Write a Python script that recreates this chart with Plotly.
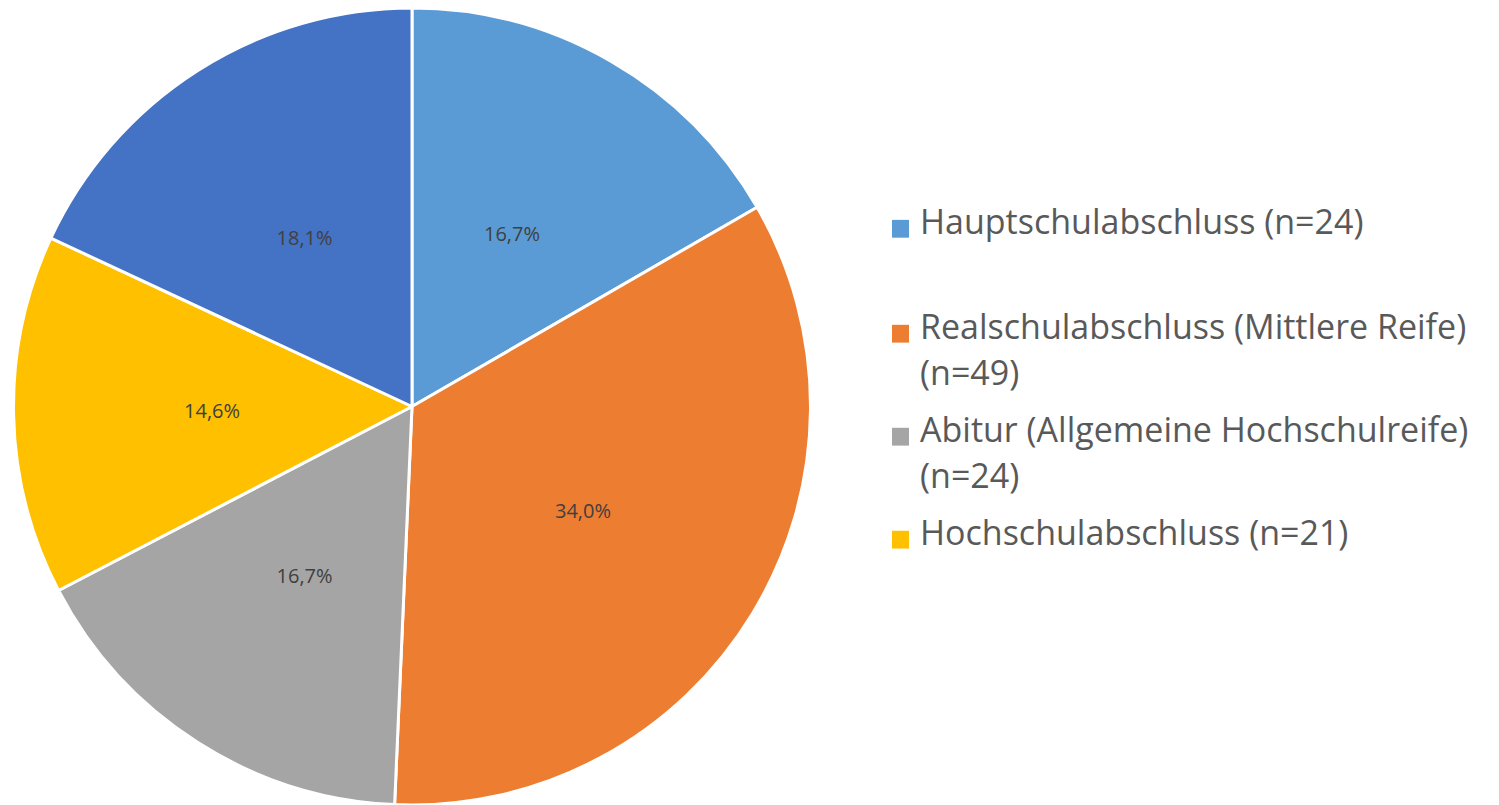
import plotly.graph_objects as go

labels = ["Hauptschulabschluss (n=24)", "Realschulabschluss (Mittlere Reife) (n=49)",
          "Abitur (Allgemeine Hochschulreife) (n=24)", "Hochschulabschluss (n=21)", "Sonstige (n=26)"]
values = [24, 49, 24, 21, 26]
colors = ["#5B9BD5", "#ED7D31", "#A5A5A5", "#FFC000", "#4472C4"]
legend_lines = [["Hauptschulabschluss (n=24)"],
                ["Realschulabschluss (Mittlere Reife)", "(n=49)"],
                ["Abitur (Allgemeine Hochschulreife)", "(n=24)"],
                ["Hochschulabschluss (n=21)"]]

W, H = 1499, 805
FONT = "Open Sans"

total = sum(values)
texts = [f"{v / total * 100:.1f}%".replace(".", ",") for v in values]

dom_x = [8 / W, 816 / W]

fig = go.Figure()
# coloured slices
fig.add_trace(go.Pie(
    labels=labels, values=values, sort=False, direction="clockwise", rotation=0,
    marker=dict(colors=colors, line=dict(color="white", width=3)),
    textinfo="none", domain=dict(x=dom_x, y=[0, 1]),
    showlegend=False, hoverinfo="label+percent",
))
# transparent ring used only to place the percentage labels at half radius
fig.add_trace(go.Pie(
    labels=labels, values=values, sort=False, direction="clockwise", rotation=0,
    hole=0.434,
    marker=dict(colors=["rgba(0,0,0,0)"] * len(values), line=dict(width=0)),
    text=texts, textinfo="text", textposition="inside", insidetextorientation="horizontal",
    textfont=dict(family=FONT, size=20, color="#404040"),
    domain=dict(x=dom_x, y=[0.15, 0.85]),
    showlegend=False, hoverinfo="skip",
))

# legend drawn at Excel-like positions
first_line_y = [223, 329, 433, 537]
line_h = 47
shapes, annos = [], []
for i, lines in enumerate(legend_lines):
    yc = first_line_y[i]
    shapes.append(dict(type="rect", xref="paper", yref="paper",
                       x0=892 / W, x1=909 / W, y0=1 - (yc + 9) / H, y1=1 - (yc - 9) / H,
                       fillcolor=colors[i], line=dict(width=0)))
    for j, t in enumerate(lines):
        annos.append(dict(text=t, xref="paper", yref="paper", x=918 / W,
                          y=1 - (yc - 8 + j * line_h) / H,
                          xanchor="left", yanchor="middle", showarrow=False,
                          font=dict(family=FONT, size=34, color="#595959")))

fig.update_layout(width=W, height=H, margin=dict(l=0, r=0, t=8, b=0),
                  paper_bgcolor="white", plot_bgcolor="white",
                  shapes=shapes, annotations=annos)
fig.write_html("out.html", config={"displayModeBar": False},
               post_script="document.body.style.margin='0px';")
